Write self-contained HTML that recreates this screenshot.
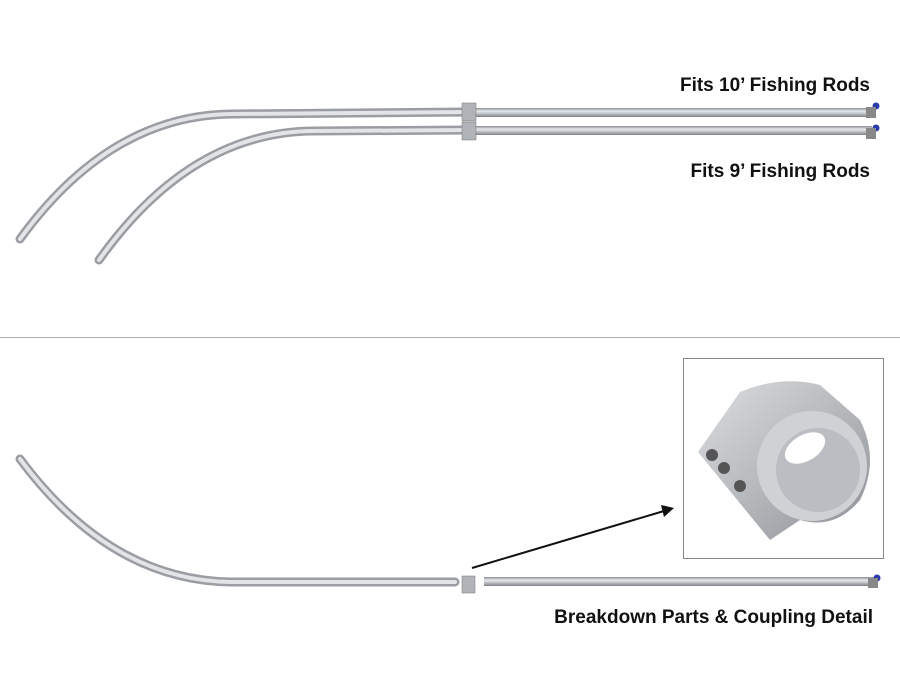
<!DOCTYPE html>
<html><head><meta charset="utf-8"><style>
html,body{margin:0;padding:0;background:#fff;}
svg{display:block}
text{font-family:"Liberation Sans",sans-serif;font-weight:bold;fill:#111;}
</style></head><body>
<svg width="900" height="674" viewBox="0 0 900 674" xmlns="http://www.w3.org/2000/svg">
<defs>
<linearGradient id="tube" x1="0" y1="0" x2="0" y2="1">
<stop offset="0" stop-color="#8a8d91"/><stop offset="0.35" stop-color="#e8eaec"/><stop offset="0.6" stop-color="#c4c7ca"/><stop offset="1" stop-color="#7d8085"/>
</linearGradient>
<linearGradient id="cyl" x1="0" y1="0" x2="1" y2="1">
<stop offset="0" stop-color="#dcdee0"/><stop offset="0.5" stop-color="#b6b9bc"/><stop offset="1" stop-color="#8c8f94"/>
</linearGradient>
</defs>
<g fill="none" stroke-linecap="round">
<path d="M20 239 Q110 115 232 114 L470 112" stroke="#9a9da1" stroke-width="9"/>
<path d="M20 239 Q110 115 232 114 L470 112" stroke="#e2e4e6" stroke-width="4"/>
<path d="M99 260 Q190 132 313 131 L470 130" stroke="#9a9da1" stroke-width="9"/>
<path d="M99 260 Q190 132 313 131 L470 130" stroke="#e2e4e6" stroke-width="4"/>
</g>
<rect x="476" y="108" width="396" height="9" fill="url(#tube)"/>
<rect x="476" y="126" width="396" height="9" fill="url(#tube)"/>
<rect x="462" y="103" width="14" height="18" fill="#b0b3b7" stroke="#777" stroke-width="0.5"/>
<rect x="462" y="122" width="14" height="18" fill="#b0b3b7" stroke="#777" stroke-width="0.5"/>
<circle cx="876" cy="106" r="3.5" fill="#2a3aa8"/><circle cx="876" cy="128" r="3.5" fill="#2a3aa8"/>
<rect x="866" y="107" width="10" height="11" fill="#888"/><rect x="866" y="128" width="10" height="11" fill="#888"/>
<text x="870" y="91" font-size="19" text-anchor="end">Fits 10’ Fishing Rods</text>
<text x="870" y="177" font-size="19" text-anchor="end">Fits 9’ Fishing Rods</text>
<line x1="0" y1="337.5" x2="900" y2="337.5" stroke="#b0b0b0" stroke-width="1"/>
<g fill="none" stroke-linecap="round">
<path d="M20 459 Q110 580 230 582 L455 582" stroke="#9a9da1" stroke-width="9"/>
<path d="M20 459 Q110 580 230 582 L455 582" stroke="#e2e4e6" stroke-width="4"/>
</g>
<rect x="462" y="576" width="13" height="17" fill="#b0b3b7" stroke="#777" stroke-width="0.5"/>
<rect x="484" y="577" width="392" height="9" fill="url(#tube)"/>
<circle cx="877" cy="578" r="3.5" fill="#2a3aa8"/>
<rect x="868" y="578" width="10" height="10" fill="#888"/>
<line x1="472" y1="568" x2="664" y2="511" stroke="#111" stroke-width="2"/>
<polygon points="674,508 661,505 664,517" fill="#111"/>
<rect x="683.5" y="358.5" width="200" height="200" fill="#fff" stroke="#888"/>
<path d="M698 452 L740 392 Q780 375 820 385 L860 420 Q880 460 860 500 Q835 530 800 520 L770 540 Z" fill="url(#cyl)"/>
<ellipse cx="812" cy="466" rx="55" ry="55" fill="#cfd1d4"/>
<ellipse cx="818" cy="470" rx="42" ry="42" fill="#babdc1"/>
<ellipse cx="805" cy="448" rx="22" ry="13" fill="#fff" transform="rotate(-30 805 448)"/>
<circle cx="712" cy="455" r="6" fill="#555"/><circle cx="724" cy="468" r="6" fill="#555"/><circle cx="740" cy="486" r="6" fill="#555"/>
<text x="873" y="623" font-size="19" text-anchor="end">Breakdown Parts &amp; Coupling Detail</text>
</svg>
</body></html>
